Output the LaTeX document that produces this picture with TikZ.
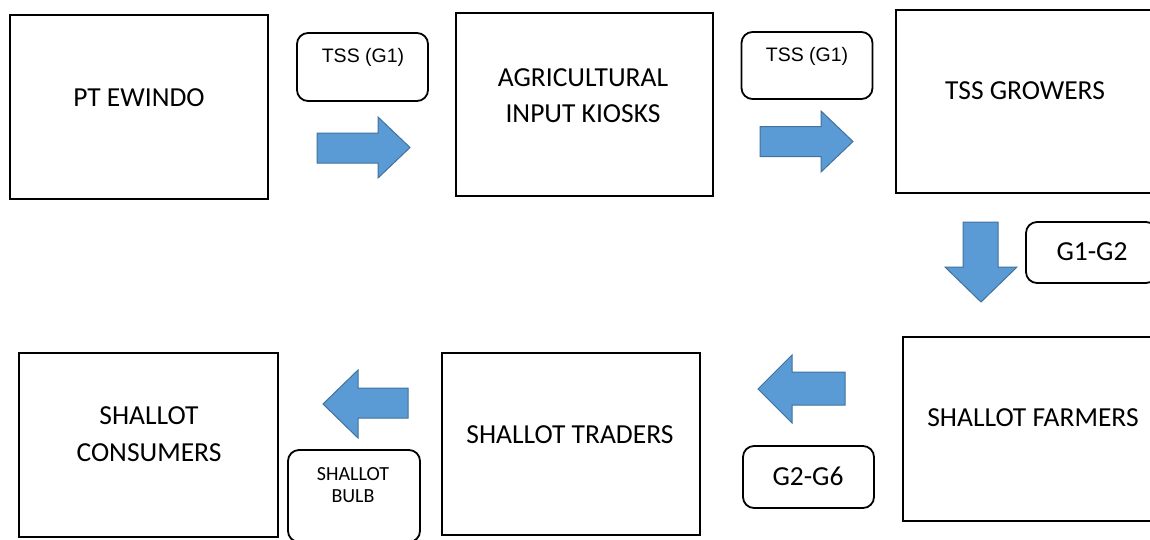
\documentclass[tikz,border=0pt]{standalone}
\usepackage{fontspec}
\setmainfont{Carlito}
\newfontfamily\arialfont{Liberation Sans}
\definecolor{arrowfill}{HTML}{5B9BD5}
\definecolor{arrowedge}{HTML}{41719C}
\begin{document}
\begin{tikzpicture}[x=1pt,y=-1pt,
  box/.style={draw, line width=1.8pt, rectangle, inner sep=0pt},
  tag/.style={draw, line width=1.8pt, rounded corners=11pt, rectangle, inner sep=0pt},
  maintext/.style={font=\fontsize{27.5}{36.5}\selectfont, align=center, inner sep=0pt},
  tagtext/.style={font=\arialfont\fontsize{19.5}{23}\selectfont, inner sep=0pt},
  smalltext/.style={font=\fontsize{20}{22}\selectfont, align=center, inner sep=0pt},
  blockarrow/.style={fill=arrowfill, draw=arrowedge, line width=1pt, line join=miter}]
\useasboundingbox (0,0) rectangle (1150,539);
\clip (0,0) rectangle (1150,539);

% actors of the seed chain
\node[box, minimum width=258, minimum height=184] (ewindo)    at (139,107)    {};
\node[box, minimum width=257, minimum height=183] (kiosks)    at (584.5,104.5) {};
\node[box, minimum width=258, minimum height=183] (growers)   at (1025,101.5) {};
\node[box, minimum width=258, minimum height=184] (farmers)   at (1032,429)   {};
\node[box, minimum width=258, minimum height=182] (traders)   at (571,444)    {};
\node[box, minimum width=259, minimum height=184] (consumers) at (148.5,445)  {};

\node[maintext] (ewindoT)    at (139,97.5) {PT EWINDO};
\node[maintext] (kiosksT)    at (583,95.5) {AGRICULTURAL\\INPUT KIOSKS};
\node[maintext] (growersT)   at (1025,91)  {TSS GROWERS};
\node[maintext] (farmersT)   at (1033,418) {SHALLOT FARMERS};
\node[maintext] (tradersT)   at (570,434.5) {SHALLOT TRADERS};
\node[maintext] (consumersT) at (149,434)  {SHALLOT\\CONSUMERS};

% product tags
\node[tag, minimum width=131, minimum height=68] (tag1) at (362.5,67)   {};
\node[tag, minimum width=131, minimum height=67] (tag2) at (807,65.5)   {};
\node[tag, minimum width=131, minimum height=61] (tag3) at (1091.5,252.5) {};
\node[tag, minimum width=131, minimum height=62] (tag4) at (808.5,477)  {};
\node[tag, minimum width=132, minimum height=92] (tag5) at (354,496)    {};

\node[tagtext] (tag1T) at (363,57) {TSS (G1)};
\node[tagtext] (tag2T) at (807,56) {TSS (G1)};
\node[maintext] (tag3T) at (1092,252) {G1-G2};
\node[maintext] (tag4T) at (808,476) {G2-G6};
\node[smalltext] (tag5T) at (353,485) {SHALLOT\\BULB};

% block arrows showing the flow
\draw[blockarrow] (317,133) -- (378,133) -- (378,117) -- (410,147.5)
  -- (378,178) -- (378,163) -- (317,163) -- cycle;
\draw[blockarrow] (760,126.5) -- (821,126.5) -- (821,111) -- (853,141.5)
  -- (821,172) -- (821,156.5) -- (760,156.5) -- cycle;
\draw[blockarrow] (963,222) -- (998,222) -- (998,267) -- (1017,267)
  -- (981,302) -- (945,267) -- (963,267) -- cycle;
\draw[blockarrow] (845,372) -- (792,372) -- (792,355) -- (758,389)
  -- (792,423) -- (792,405) -- (845,405) -- cycle;
\draw[blockarrow] (408,388) -- (358,388) -- (358,370) -- (323,404)
  -- (358,438) -- (358,418) -- (408,418) -- cycle;
\end{tikzpicture}
\end{document}
